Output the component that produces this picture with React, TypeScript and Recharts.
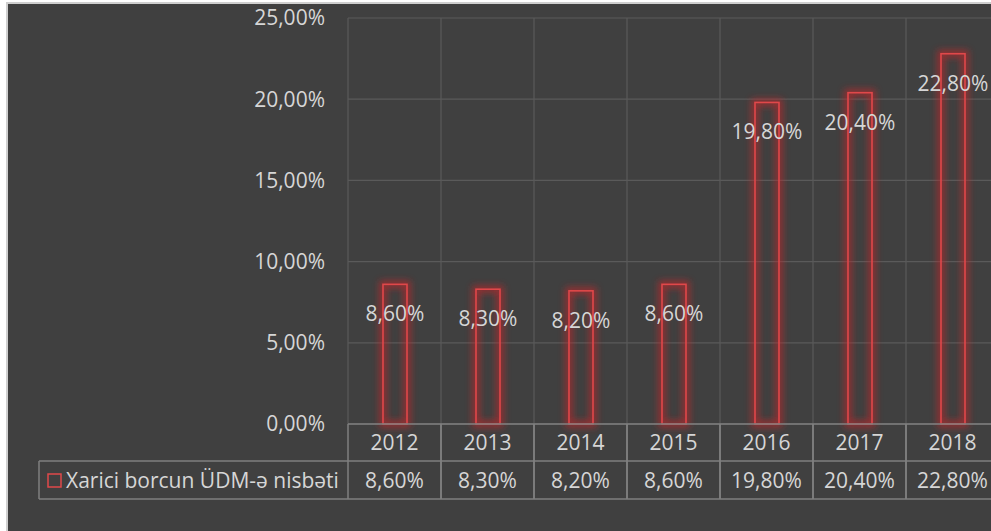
import React from 'react';
import {
  BarChart,
  Bar,
  XAxis,
  YAxis,
  CartesianGrid,
  LabelList
} from 'recharts';

const years = ['2012', '2013', '2014', '2015', '2016', '2017', '2018'];
const ratio = [8.6, 8.3, 8.2, 8.6, 19.8, 20.4, 22.8];
const yTicks = [0, 5, 10, 15, 20, 25];
const seriesName = 'Xarici borcun ÜDM-ə nisbəti';

const W = 1000;
const H = 531;
const M = { top: 18, right: 1, left: 0, bottom: 0 };
const Y_AXIS_W = 348;
const X_AXIS_H = 107;
const BAND = (W - M.left - M.right - Y_AXIS_W) / years.length;

const TEXT = '#d6d6d6';
const FONT = '"Open Sans", sans-serif';
const FS = 21;
const TABLE_LINE = '#7f7f7f';
const RED = '#e0484a';

const data = years.map((y, i) => ({ year: y, value: ratio[i] }));

const fmt = (v: number) => v.toFixed(2).replace('.', ',') + '%';

function GlowBar(props: any) {
  const { x, y, width, height, index } = props;
  if (width == null || height == null) return null;
  const id = `glow-${index}`;
  return (
    <g>
      <defs>
        <filter id={id} x="-100%" y="-20%" width="300%" height="140%">
          <feGaussianBlur stdDeviation="3.5" />
        </filter>
      </defs>
      <rect x={x} y={y} width={width} height={height} fill="none" stroke="#c0282a" strokeWidth={7} opacity={0.7} filter={`url(#${id})`} />
      <rect x={x} y={y} width={width} height={height} fill="none" stroke={RED} strokeWidth={1.6} />
    </g>
  );
}

function BarLabel(props: any) {
  const { x, y, width, value } = props;
  return (
    <text x={x + width / 2} y={y + 29} textAnchor="middle" dominantBaseline="central"
      fill={TEXT} fontSize={FS} fontFamily={FONT}>
      {fmt(value)}
    </text>
  );
}

function TableTick(props: any) {
  const { x, y, payload } = props;
  const i = payload.index;
  const l = x - BAND / 2;
  const r = x + BAND / 2;
  const rowH = 37;
  return (
    <g>
      <line x1={l} x2={r} y1={y} y2={y} stroke={TABLE_LINE} strokeWidth={1.5} />
      <line x1={l} x2={r} y1={y + rowH} y2={y + rowH} stroke={TABLE_LINE} strokeWidth={1.5} />
      <line x1={l} x2={r} y1={y + rowH * 2 + 1} y2={y + rowH * 2 + 1} stroke={TABLE_LINE} strokeWidth={1.5} />
      <line x1={l} x2={l} y1={y} y2={y + rowH * 2 + 1} stroke={TABLE_LINE} strokeWidth={1.5} />
      <line x1={r} x2={r} y1={y} y2={y + rowH * 2 + 1} stroke={TABLE_LINE} strokeWidth={1.5} />
      <text x={x} y={y + 18} textAnchor="middle" dominantBaseline="central" fill={TEXT} fontSize={FS} fontFamily={FONT}>
        {years[i]}
      </text>
      <text x={x} y={y + 56} textAnchor="middle" dominantBaseline="central" fill={TEXT} fontSize={FS} fontFamily={FONT}>
        {fmt(ratio[i])}
      </text>
      {i === 0 && (
        <g>
          <line x1={39} x2={l} y1={y + rowH} y2={y + rowH} stroke={TABLE_LINE} strokeWidth={1.5} />
          <line x1={39} x2={l} y1={y + rowH * 2 + 1} y2={y + rowH * 2 + 1} stroke={TABLE_LINE} strokeWidth={1.5} />
          <line x1={39} x2={39} y1={y + rowH} y2={y + rowH * 2 + 1} stroke={TABLE_LINE} strokeWidth={1.5} />
          <rect x={48} y={y + 50} width={13} height={13} fill="none" stroke={RED} strokeWidth={1.5} />
          <text x={66} y={y + 56} dominantBaseline="central" fill={TEXT} fontSize={FS} fontFamily={FONT}>
            {seriesName}
          </text>
        </g>
      )}
    </g>
  );
}

export default function App() {
  return (
    <div style={{ position: 'absolute', left: 0, top: 0, width: 991, height: 531, overflow: 'hidden', background: '#ffffff' }}>
      <div style={{ position: 'absolute', left: 6, top: 2, width: 1100, height: 600, background: '#404040', borderTop: '2px solid #cfcfcf', borderLeft: '2px solid #cfcfcf' }} />
      <div style={{ position: 'absolute', left: 0, top: 0 }}>
        <BarChart width={W} height={H} data={data} margin={M} barSize={24}>
          <CartesianGrid
            stroke="#5a5a5a"
            strokeWidth={1.2}
            verticalCoordinatesGenerator={({ offset }: any) =>
              years.map((_, i) => offset.left + i * BAND).concat([offset.left + years.length * BAND])
            }
          />
          <XAxis
            dataKey="year"
            height={X_AXIS_H}
            axisLine={false}
            tickLine={false}
            tickSize={0}
            tickMargin={0}
            interval={0}
            tick={<TableTick />}
          />
          <YAxis
            width={Y_AXIS_W}
            domain={[0, 25]}
            ticks={yTicks}
            axisLine={false}
            tickLine={false}
            tickSize={0}
            tickMargin={23}
            tickFormatter={fmt}
            tick={{ fill: TEXT, fontSize: FS, fontFamily: FONT }}
          />
          <Bar dataKey="value" name={seriesName} shape={<GlowBar />} isAnimationActive={false}>
            <LabelList dataKey="value" content={<BarLabel />} />
          </Bar>
        </BarChart>
      </div>
    </div>
  );
}
